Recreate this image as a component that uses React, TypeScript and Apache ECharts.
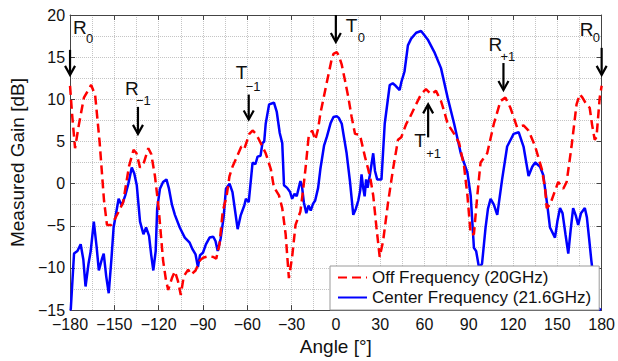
import React, { useEffect, useRef } from 'react';
import * as echarts from 'echarts';

// ---- Data ----
const offAngles = [-180, -178.5, -176.6, -174, -170.6, -168, -165.7, -163, -160, -157, -155, -152, -150, -147, -144, -142, -140, -137, -135, -132.6, -130, -127, -125, -122.5, -120, -117, -115, -113.5, -111, -109, -107, -105, -103, -100, -98, -95, -92, -90, -86, -83, -81, -78.8, -76.6, -74, -72, -70, -67.7, -64, -62, -58.6, -56.4, -54, -52, -47.5, -44, -42, -38.5, -36.3, -34, -31.8, -29.6, -27.3, -24, -22, -20.6, -18.4, -16.1, -13.9, -12, -10.5, -6, -3, -1.6, 0.6, 2, 4, 6, 8.5, 10.7, 13, 16.3, 18, 19.7, 21.9, 23.5, 25.3, 27.5, 29.7, 32, 35.4, 38.7, 42.1, 44.3, 47.7, 50, 53.2, 57.7, 61, 64.5, 67.8, 71.2, 73.5, 75.7, 80.1, 83.5, 86.8, 89.1, 91.3, 93.5, 95.8, 98, 102.5, 107, 111.5, 114.8, 118.2, 122.7, 127.1, 130.5, 135, 139.5, 141.7, 142.8, 145, 147.3, 150.6, 154, 156.3, 159.6, 163, 165.2, 167, 169.7, 171.9, 173.5, 175.3, 176.5, 178.7, 180];
const offGain = [11.6, 8, 4.2, 7, 10.2, 11, 11.7, 10.5, 5, -2, -4.9, -4.9, -4.3, -3.3, -2.2, 0, 2.1, 4.0, 3.6, 1.9, 2.5, 4.2, 3.5, 0.9, -2.9, -9.1, -11.5, -12.6, -11.2, -10.4, -11.5, -13.2, -11, -10.2, -10.8, -10.3, -9.1, -8.8, -8.6, -8.7, -8.9, -7.2, -3.3, -1.5, 0.9, 2, 2.9, 4.4, 4.1, 5.9, 6.3, 5.9, 5.2, 3.6, 1.7, -0.4, -1.4, -2.9, -6, -11.2, -8.7, -4.9, -3.3, -0.5, 1.7, 5.6, 6.3, 5.2, 6.5, 8.3, 12.1, 14.6, 15.4, 15.6, 15.2, 14.1, 12.4, 10.2, 7.9, 5.9, 5.8, 4.5, 3.2, 1.7, 0.5, -1.4, -5.2, -8.7, -6.8, -2.2, 1.7, 5.2, 5.5, 7.1, 7.8, 9, 10.6, 11.2, 10.6, 11, 9.8, 8.5, 7.1, 5.9, 4.8, 2.1, -1.4, -6, -6, -1.4, 2.5, 3.6, 7.1, 9.8, 10.2, 9, 6.7, 6.9, 6.3, 4.4, 1.7, -0.6, -2.9, -2.5, -1.4, 0.2, -0.6, 0.2, 4.4, 9.4, 10.6, 10.2, 9.4, 9, 7, 5.2, 5.5, 10.2, 11.6];

const centerAngles = [-180, -179.5, -177.3, -175, -172.8, -171, -169.5, -167.5, -166, -163.9, -162, -160.5, -158.5, -157.2, -155.5, -153.8, -152, -150.5, -147.1, -145, -142.6, -140.5, -138.2, -136.5, -134.8, -132.6, -130.3, -128.5, -126.5, -125, -123.6, -122, -121, -119.1, -117, -114.7, -113, -111, -109, -105.7, -102.3, -99, -97, -95, -93.4, -92, -90, -88, -85.5, -83, -81.5, -80, -78, -76, -74.4, -72, -70, -68.8, -66.5, -64.5, -62, -60.9, -59, -57.5, -56.4, -54.5, -53, -51, -49.7, -48.5, -47.5, -45.2, -43.5, -41.9, -40, -38, -36.3, -35.1, -33, -31, -29.6, -28, -26.5, -24, -23, -21.7, -20, -18.5, -17, -15.5, -14, -12, -10.5, -8, -6, -3.5, -1.6, 0.6, 2, 4, 5.5, 7.3, 9.6, 11.8, 13.5, 15.2, 16.5, 17.4, 18.5, 19.5, 20.5, 21.5, 23, 25.3, 26.5, 28, 30.9, 33.1, 36.5, 38.5, 40.5, 43.2, 44.3, 46.5, 48.8, 51, 54.4, 57.7, 60, 62.2, 66.7, 71.2, 75.7, 80.1, 84.6, 89.1, 91.3, 93.5, 95, 97, 99, 101.4, 103, 104.8, 107, 109.3, 112.6, 116, 120.4, 123.8, 127.1, 130.5, 133, 135, 138.3, 140.5, 142, 143.5, 145, 148.4, 150, 151.8, 153.5, 155.5, 157.4, 159, 160.7, 162.5, 164.1, 166, 168.6, 170, 171.5, 173, 175, 177, 179.5];
const centerGain = [-15, -14.9, -8.3, -8, -7.2, -9, -12.2, -9.5, -8, -4.5, -7.5, -10.3, -9, -8.3, -11, -13, -9, -5.2, -1.8, -2.6, -1.4, 0, 1.9, 1.2, -0.2, -4.5, -6, -5.2, -6.2, -8.5, -10.3, -8, -3, -0.6, 0.2, 0.5, -0.6, -2.5, -3.7, -5.2, -6.4, -7, -7.8, -8.4, -9.9, -8.5, -8.2, -7.2, -6.4, -6.3, -6.8, -8, -6.5, -4, -0.6, 0, -1, -2.5, -5.4, -3.8, -2.6, -1.8, -2.2, 0.5, 2.5, 2.3, 3.2, 3.3, 4.8, 5, 7.1, 9.4, 9.5, 9.6, 8.5, 6, 4.8, -0.2, -0.5, -1, -1.8, -1.2, -1.5, 0.3, -0.2, -2.2, -3.5, -2.6, -3.2, -2.4, -2, -0.5, 1.7, 4.5, 5.6, 7.2, 7.9, 8, 7.8, 7.1, 5.5, 3.6, 0.2, -3.7, -3, -2, -0.8, 1.1, -0.5, -1.5, 0.5, -0.5, 1, 3.6, 1.5, 0.5, 0.5, 7.1, 11.7, 11.9, 11.6, 11.1, 12, 13.3, 16.4, 17.2, 17.9, 18.1, 17.6, 17.1, 15.6, 13.7, 10.2, 7.1, 3.6, 1.3, -1.4, -7.6, -8, -10, -9.5, -5.2, -3, -1.8, -2.5, -3.7, 0.5, 4.4, 5.9, 6.1, 4.4, 0.9, 2, 2.5, 2, 1, -1, -3, -5.2, -6.4, -4.5, -2.9, -3.5, -6, -8.3, -5.5, -2.9, -3.8, -4.9, -3.5, -2.9, -4, -6.5, -9.1, -12, -14.7, -15];

const seriesNames = ['Off Frequency (20GHz)', 'Center Frequency (21.6GHz)'];

// Annotations (arrow tip positions in data units)
const annAngles = [-180, -134, -59, 0, 62.5, 113.5, 180];
const annTipDb = [12.9, 5.9, 7.6, 16.8, 9.4, 11.1, 12.9];
const annLetters = ['R', 'R', 'T', 'T', 'T', 'R', 'R'];
const annSubs = ['0', '\u22121', '\u22121', '0', '+1', '+1', '0'];
const annUp = [false, false, false, false, true, false, false];

// layout for annotations (pixels relative to arrow tip): arrow length, letter dx/dy, sub dx/dy
const annLayout = [
  { len: 25, lx: 3, ly: -57, sx: 16, sy: -43 },
  { len: 27, lx: -13, ly: -55, sx: -2, sy: -40 },
  { len: 25, lx: -13, ly: -57, sx: -3, sy: -40 },
  { len: 27, lx: 10, ly: -26, sx: 22, sy: -11 },
  { len: 33, lx: -14, ly: 27, sx: -2, sy: 43 },
  { len: 27, lx: -15, ly: -55, sx: -3, sy: -40 },
  { len: 27, lx: -22, ly: -55, sx: -9, sy: -44 },
];

const FONT = '"Liberation Sans", Arial, Helvetica, sans-serif';
const fmt = (v: number) => (v < 0 ? '\u2212' + Math.abs(v) : String(v));

export default function App() {
  const ref = useRef<HTMLDivElement>(null);
  useEffect(() => {
    const chart = echarts.init(ref.current!, null, { renderer: 'svg' });
    const gridLine = { show: true, lineStyle: { color: '#c4c4c4', type: 'dotted', width: 1 } };
    const axisLine = { show: true, onZero: false, lineStyle: { color: '#444', width: 1 } };
    const tick = { show: true, inside: true, length: 5, lineStyle: { color: '#444' } };
    chart.setOption({
      animation: false,
      backgroundColor: '#fff',
      textStyle: { fontFamily: FONT },
      grid: { left: 66, right: 16, top: 15, bottom: 43, containLabel: false },
      legend: {
        data: seriesNames,
        orient: 'vertical',
        left: 330,
        top: 266,
        padding: [3, 8, 4, 7],
        itemGap: 3,
        itemWidth: 29,
        itemHeight: 14,
        itemStyle: { opacity: 0 },
        backgroundColor: '#fff',
        borderColor: '#9a9a9a',
        borderWidth: 1,
        borderRadius: 0,
        textStyle: { fontSize: 17, color: '#111', fontFamily: FONT },
      },
      xAxis: [
        {
          type: 'value', min: -180, max: 180, interval: 30,
          name: 'Angle [°]', nameLocation: 'middle', nameGap: 21,
          nameTextStyle: { fontSize: 19, color: '#111', fontFamily: FONT },
          axisLine, axisTick: tick,
          axisLabel: { fontSize: 16, color: '#111', margin: 6, formatter: fmt, fontFamily: FONT },
          splitLine: gridLine,
          minorTick: { show: false, splitNumber: 2 },
          minorSplitLine: gridLine,
        },
        {
          type: 'value', position: 'top', min: -180, max: 180, interval: 30,
          axisLine, axisTick: tick, axisLabel: { show: false }, splitLine: { show: false },
        },
      ],
      yAxis: [
        {
          type: 'value', min: -15, max: 20, interval: 5,
          name: 'Measured Gain [dB]', nameLocation: 'middle', nameGap: 38,
          nameTextStyle: { fontSize: 19, color: '#111', fontFamily: FONT },
          axisLine, axisTick: tick,
          axisLabel: { fontSize: 16, color: '#111', margin: 5, formatter: fmt, fontFamily: FONT },
          splitLine: gridLine,
          minorTick: { show: false, splitNumber: 2 },
          minorSplitLine: gridLine,
        },
        {
          type: 'value', position: 'right', min: -15, max: 20, interval: 5,
          axisLine, axisTick: tick, axisLabel: { show: false }, splitLine: { show: false },
        },
      ],
      series: [
        {
          name: seriesNames[0], type: 'line', symbol: 'none', showSymbol: false,
          data: offAngles.map((a, i) => [a, offGain[i]]),
          lineStyle: { color: '#ff0000', width: 2.5, type: [9, 5] },
          itemStyle: { color: '#ff0000' },
          z: 3,
        },
        {
          name: seriesNames[1], type: 'line', symbol: 'none', showSymbol: false,
          data: centerAngles.map((a, i) => [a, centerGain[i]]),
          lineStyle: { color: '#0000ff', width: 2.5 },
          itemStyle: { color: '#0000ff' },
          z: 2,
        },
      ],
    });

    const graphics: any[] = [];
    annAngles.forEach((a, i) => {
      const p = chart.convertToPixel({ xAxisIndex: 0, yAxisIndex: 0 }, [a, annTipDb[i]]) as number[];
      const tx = p[0];
      const ty = p[1];
      const L = annLayout[i];
      const dir = annUp[i] ? -1 : 1; // +1: arrow points down
      const tailY = ty - dir * L.len;
      graphics.push({
        type: 'line', z: 100,
        shape: { x1: tx, y1: tailY, x2: tx, y2: ty - dir * 1 },
        style: { stroke: '#000', lineWidth: 2.2 },
      });
      graphics.push({
        type: 'polyline', z: 100,
        shape: { points: [[tx - 5, ty - dir * 9], [tx, ty], [tx + 5, ty - dir * 9]] },
        style: { stroke: '#000', lineWidth: 2.2, fill: null },
      });
      graphics.push({
        type: 'text', z: 100, x: tx + L.lx, y: ty + L.ly,
        style: { text: annLetters[i], fontSize: 19, fill: '#111', fontFamily: FONT, textVerticalAlign: 'top', textAlign: 'left' },
      });
      graphics.push({
        type: 'text', z: 100, x: tx + L.sx, y: ty + L.sy,
        style: { text: annSubs[i], fontSize: 13, fill: '#111', fontFamily: FONT, textVerticalAlign: 'top', textAlign: 'left' },
      });
    });
    chart.setOption({ graphic: graphics });

    return () => chart.dispose();
  }, []);
  return <div ref={ref} style={{ position: 'absolute', left: 0, top: 0, width: 618, height: 361 }} />;
}
